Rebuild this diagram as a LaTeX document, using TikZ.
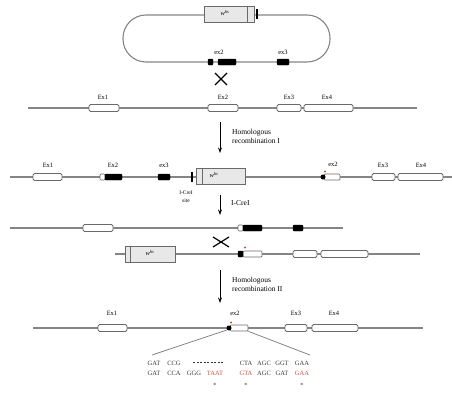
\documentclass[tikz,border=0pt]{standalone}
\usepackage{fontspec}
\setmainfont{Liberation Serif}
\usetikzlibrary{arrows.meta}
\definecolor{lineg}{HTML}{858585}
\definecolor{boxg}{HTML}{6A6A6A}
\definecolor{mk}{HTML}{E8E8E8}
\definecolor{seqred}{HTML}{C8503C}
\definecolor{seqtxt}{HTML}{383838}
\begin{document}
\begin{tikzpicture}[x=1pt,y=-1pt,
  chrom/.style={draw=lineg,line width=1.1pt},
  exon/.style={draw=boxg,fill=white,rounded corners=1.5pt,line width=0.8pt,minimum height=7pt,inner sep=0pt},
  bex/.style={draw=black,fill=black,rounded corners=1pt,minimum height=6pt,inner sep=0pt},
  wex/.style={draw=boxg,fill=white,rounded corners=1pt,line width=0.7pt,minimum height=6pt,inner sep=0pt},
  mkbox/.style={draw=boxg,fill=mk,line width=0.8pt,minimum height=16pt,inner sep=0pt},
  inl/.style={draw=boxg,line width=0.7pt},
  sitetick/.style={draw=black,line width=1.4pt},
  lab/.style={font=\fontsize{6.5}{7}\selectfont,inner sep=0pt},
  tiny/.style={font=\fontsize{5.5}{7.5}\selectfont,inner sep=0pt,align=center},
  biglab/.style={font=\fontsize{7.5}{9.5}\selectfont,inner sep=0pt,align=left,anchor=west},
  seq/.style={font=\fontsize{6.5}{7}\selectfont,inner sep=0pt,text=seqtxt},
  seqr/.style={font=\fontsize{6.5}{7}\selectfont,inner sep=0pt,text=seqred},
  arr/.style={draw=black,line width=0.8pt,-{Stealth[length=5.5pt,width=4pt]}},
  xm/.style={draw=black,line width=1.2pt},
  rmark/.style={circle,fill=seqred,inner sep=0pt,minimum size=2.2pt},
  bdot/.style={circle,fill=black,inner sep=0pt,minimum size=5pt},
  fan/.style={draw=lineg,line width=0.8pt}]
\useasboundingbox (0,0) rectangle (452,399);

% ---------- plasmid ----------
\draw[chrom,rounded corners=23pt] (123,15) rectangle (330,62);
\node[mkbox,minimum width=50pt] (pmk) at (229,14) {};
\draw[inl] ([xshift=-7pt]pmk.north east) -- ([xshift=-7pt]pmk.south east);
\node[lab] (pmkl) at (225,13) {\textit{w}\textsuperscript{\textit{hs}}};
\draw[sitetick] (257,9) -- (257,19);
\node[bex,minimum width=5pt] (p2a) at (210.5,62) {};
\node[bex,minimum width=18pt] (p2b) at (227,62) {};
\node[bex,minimum width=12pt] (p3) at (283,62) {};
\node[lab] (p2l) at (219,52) {ex2};
\node[lab] (p3l) at (283,52) {ex3};

% cross 1
\draw[xm] (215,73) -- (227,85);
\draw[xm] (215,85) -- (227,73);

% ---------- line 1 ----------
\coordinate (L1a) at (28,108);
\coordinate (L1b) at (417,108);
\draw[chrom] (L1a) -- (L1b);
\node[exon,minimum width=30pt] (a1) at (104,108) {};
\node[exon,minimum width=30pt] (a2) at (223,108) {};
\node[exon,minimum width=24pt] (a3) at (289,108) {};
\node[exon,minimum width=49pt] (a4) at (328.5,108) {};
\node[lab] (a1l) at (103,97) {Ex1};
\node[lab] (a2l) at (223,97) {Ex2};
\node[lab] (a3l) at (289,97) {Ex3};
\node[lab] (a4l) at (327,97) {Ex4};

% arrow 1
\coordinate (r1a) at (220,122);
\coordinate (r1b) at (220,153);
\draw[arr] (r1a) -- (r1b);
\node[biglab] (r1l) at (232,136.5) {Homologous\\recombination I};

% ---------- line 2 ----------
\coordinate (L2a) at (10,177);
\coordinate (L2b) at (452,177);
\draw[chrom] (L2a) -- (L2b);
\node[exon,minimum width=29pt] (b1) at (47.5,177) {};
\node[wex,minimum width=5pt] (b2w) at (102.5,177) {};
\node[bex,minimum width=17pt] (b2b) at (113.5,177) {};
\node[bex,minimum width=12pt] (b3) at (164,177) {};
\draw[sitetick] (192,172) -- (192,182);
\node[mkbox,minimum width=49pt] (bmk) at (220.5,176) {};
\draw[inl] ([xshift=7pt]bmk.north west) -- ([xshift=7pt]bmk.south west);
\node[lab] (bmkl) at (214,175) {\textit{w}\textsuperscript{\textit{hs}}};
\node[tiny] (bsite) at (186,196.5) {I-CreI\\site};
\node[wex,minimum width=16pt] (b2e) at (332,177) {};
\node[bdot] (bd) at (323,177) {};
\node[rmark] (brm) at (325,171.5) {};
\node[exon,minimum width=23pt] (b5) at (383.5,177) {};
\node[exon,minimum width=45pt] (b6) at (420.5,177) {};
\node[lab] (b1l) at (48,165) {Ex1};
\node[lab] (b2l) at (113,165) {Ex2};
\node[lab] (b3l) at (164,165) {ex3};
\node[lab] (b4l) at (333,164) {ex2};
\node[lab] (b5l) at (383,165) {Ex3};
\node[lab] (b6l) at (421,165) {Ex4};

% arrow 2
\coordinate (r2a) at (220,195);
\coordinate (r2b) at (220,215);
\draw[arr] (r2a) -- (r2b);
\node[biglab] (r2l) at (231,203) {I-CreI};

% ---------- line 3a ----------
\coordinate (L3a) at (10,228);
\coordinate (L3b) at (343,228);
\draw[chrom] (L3a) -- (L3b);
\node[exon,minimum width=30pt] (c1) at (98,228) {};
\node[wex,minimum width=5pt] (c2w) at (240.5,228) {};
\node[bex,minimum width=19pt] (c2b) at (252.5,228) {};
\node[bex,minimum width=10pt] (c3) at (298,228) {};

% cross 2
\draw[xm] (213,237) -- (229,247);
\draw[xm] (213,247) -- (229,237);

% ---------- line 3b ----------
\coordinate (L4a) at (115,254);
\coordinate (L4b) at (420,254);
\draw[chrom] (L4a) -- (L4b);
\node[mkbox,minimum width=50pt] (dmk) at (150,254) {};
\draw[inl] ([xshift=6pt]dmk.north west) -- ([xshift=6pt]dmk.south west);
\node[lab] (dmkl) at (150,253) {\textit{w}\textsuperscript{\textit{hs}}};
\node[wex,minimum width=19pt] (d2w) at (252.5,254) {};
\node[bex,minimum width=5pt] (d2b) at (240.5,254) {};
\node[rmark] (drm) at (245,247.5) {};
\node[exon,minimum width=24pt] (d3) at (305,254) {};
\node[exon,minimum width=47pt] (d4) at (344.5,254) {};

% arrow 3
\coordinate (r3a) at (220,270);
\coordinate (r3b) at (220,303);
\draw[arr] (r3a) -- (r3b);
\node[biglab] (r3l) at (232,284.5) {Homologous\\recombination II};

% ---------- line 4 ----------
\coordinate (L5a) at (33,328);
\coordinate (L5b) at (423,328);
\draw[chrom] (L5a) -- (L5b);
\node[exon,minimum width=29pt] (e1) at (112.5,328) {};
\node[wex,minimum width=18pt] (e2) at (239,328) {};
\node[bdot] (ed) at (229,328) {};
\node[rmark] (erm) at (231,322.5) {};
\node[exon,minimum width=22pt] (e3) at (296,328) {};
\node[exon,minimum width=46pt] (e4) at (335,328) {};
\node[lab] (e1l) at (112,313) {Ex1};
\node[lab] (e2l) at (235,313) {ex2};
\node[lab] (e3l) at (296,313) {Ex3};
\node[lab] (e4l) at (334,313) {Ex4};

% fan lines
\coordinate (f1) at (152,355);
\coordinate (f2) at (310,355);
\draw[fan] (ed.south west) -- (f1);
\draw[fan] (e2.south east) -- (f2);

% ---------- sequences ----------
\node[seq] (s11) at (154,363) {GAT};
\node[seq] (s12) at (174,363) {CCG};
\coordinate (sd1) at (193,362);
\coordinate (sd2) at (223,362);
\draw[draw=seqtxt,line width=0.6pt,dash pattern=on 2pt off 1.5pt] (sd1) -- (sd2);
\node[seq] (s14) at (246,363) {CTA};
\node[seq] (s15) at (264,363) {AGC};
\node[seq] (s16) at (282,363) {GGT};
\node[seq] (s17) at (302,363) {GAA};

\node[seq] (s21) at (154,373) {GAT};
\node[seq] (s22) at (174,373) {CCA};
\node[seq] (s23) at (194,373) {GGG};
\node[seqr] (s24) at (215,373) {TAAT};
\node[seqr] (s25) at (246,373) {GTA};
\node[seq] (s26) at (264,373) {AGC};
\node[seq] (s27) at (282,373) {GAT};
\node[seqr] (s28) at (302,373) {GAA};

\node[seq] (st1) at (215,385) {*};
\node[seq] (st2) at (246,385) {*};
\node[seq] (st3) at (302,385) {*};
\end{tikzpicture}
\end{document}
